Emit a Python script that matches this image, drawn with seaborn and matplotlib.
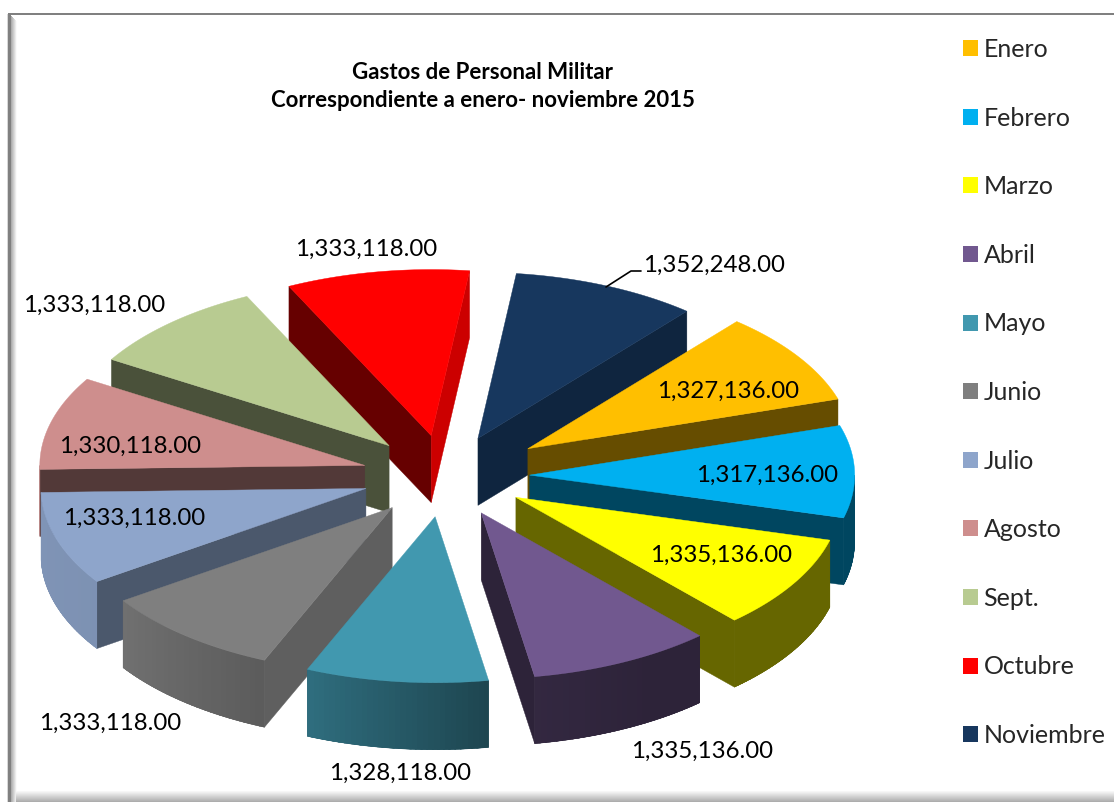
import numpy as np
import matplotlib
matplotlib.use("Agg")
import matplotlib.pyplot as plt
from matplotlib.patches import Patch, Polygon, Rectangle
import seaborn as sns

# Datos
meses = ["Enero", "Febrero", "Marzo", "Abril", "Mayo", "Junio", "Julio",
         "Agosto", "Sept.", "Octubre", "Noviembre"]
gastos = [1327136.00, 1317136.00, 1335136.00, 1335136.00, 1328118.00, 1333118.00,
          1333118.00, 1330118.00, 1333118.00, 1333118.00, 1352248.00]
colores = ["#FFBF00", "#00B0F0", "#FFFF00", "#71588F", "#4198AF", "#7F7F7F",
           "#8EA5CB", "#CE8E8D", "#B8CB91", "#FF0000", "#17375E"]
titulo = "Gastos de Personal Militar\nCorrespondiente a enero- noviembre 2015"

# Posicion del pastel en pixeles y separacion de cada porcion
CX, CY = 445, 476
RX, RY = 325, 166
ALTO = 67
EX, EY = 83, 41
INICIO = 40
separacion = [1.2, 1.02, 1, 1, 1, 1, 1, 1, 1, 1, 1]

# Donde va la etiqueta de cada mes (centro, pixeles)
pos_etiquetas = [(728, 391), (767, 475), (721, 555), (702, 751), (400, 773), (110, 723),
                 (134, 518), (130, 446), (94, 305), (366, 249), (714, 265)]

sns.set_theme(style="white")
plt.rcParams['font.family'] = ['Lato', 'DejaVu Sans']
paleta = sns.color_palette(colores)


def sombra_corte(alfa):
    """Oscurecimiento de las caras planas segun hacia donde miran"""
    return np.interp(alfa, [13, 40, 59, 71, 81, 180], [.8, .75, .67, .53, .4, .4])


def sombra_borde(phi):
    """Oscurecimiento de la cara curva"""
    return np.interp(phi, [90, 150, 170, 203, 235, 270], [.4, .4, .45, .72, .88, .9])


def oscurecer(color, f):
    return tuple(c * f for c in color)


def punto(phi):
    p = np.radians(phi)
    return np.array([RX * np.sin(p), -RY * np.cos(p)])


def dibujar_porcion(ax, ini, fin, sep, color, z):
    medio = (ini + fin) / 2
    m = np.radians(medio)
    apice = np.array([CX + sep * EX * np.sin(m), CY - sep * EY * np.cos(m)])
    baja = np.array([0, ALTO])

    # caras planas
    a, b = punto(ini), punto(fin)
    for borde, otro in ((a, b), (b, a)):
        n = np.array([-borde[1], borde[0]])
        if n @ otro > 0:
            n = -n
        if n[1] > 0:
            alfa = np.degrees(np.arctan2(n[1], n[0]))
            fc = oscurecer(color, sombra_corte(alfa))
            ax.add_patch(Polygon([apice, apice + borde, apice + borde + baja, apice + baja],
                                 closed=True, fc=fc, ec=fc, lw=.3, zorder=z))

    # cara curva: una base y encima tiras recortadas para el degradado
    lo, hi = max(ini, 90), min(fin, 270)
    if hi > lo:
        tiras = np.linspace(lo, hi, int(hi - lo) + 2)
        arriba = [apice + punto(p) for p in tiras]
        abajo = [q + baja for q in arriba][::-1]
        fc = oscurecer(color, sombra_borde((lo + hi) / 2))
        base = Polygon(arriba + abajo, closed=True, fc=fc, ec=fc, lw=.3, zorder=z)
        ax.add_patch(base)
        for p0, p1 in zip(tiras[:-1], tiras[1:]):
            fc = oscurecer(color, sombra_borde((p0 + p1) / 2))
            p, r = apice + punto(p0), apice + punto(p1)
            tira = Polygon([p, r, r + baja, p + baja], closed=True, fc=fc, ec=fc, lw=1,
                           antialiased=False, zorder=z + .1)
            ax.add_patch(tira)
            tira.set_clip_path(base)

    # tapa
    arco = np.linspace(ini, fin, 60)
    puntos = [apice] + [apice + punto(p) for p in arco]
    ax.add_patch(Polygon(puntos, closed=True, fc=color, ec=color, lw=.3, zorder=z + .5))


def dibujar_marco(ax):
    # sombra interior izquierda y de abajo
    for i in range(7):
        g = .62 + i * .06
        ax.add_patch(Rectangle((10 + i, 15 + i), 1, 787 - i, fc=(g, g, g), lw=0, zorder=1))
    for i in range(11):
        g = .97 - i * .029
        ax.add_patch(Rectangle((16, 791 + i), 1100, 1, fc=(g, g, g), lw=0, zorder=1))
    ax.add_patch(Rectangle((7, 14), 1, 788, fc="#d8d8d8", lw=0, zorder=2))
    ax.add_patch(Rectangle((8, 13), 3, 789, fc="#808080", lw=0, zorder=2))
    ax.add_patch(Rectangle((8, 13), 1106, 2.4, fc="#808080", lw=0, zorder=2))


fig = plt.figure(figsize=(11.14, 8.02), dpi=100)
ax = fig.add_axes([0, 0, 1, 1])
ax.set_xlim(0, 1114)
ax.set_ylim(802, 0)
ax.axis("off")

dibujar_marco(ax)

# Angulos de cada porcion a partir de los datos
partes = np.array(gastos) / np.sum(gastos) * 360
finales = INICIO + np.cumsum(partes)
iniciales = finales - partes
medios = (iniciales + finales) / 2

# de atras hacia adelante
orden = np.argsort(-np.cos(np.radians(medios)))
for z, i in enumerate(orden):
    dibujar_porcion(ax, iniciales[i], finales[i], separacion[i], paleta[i], 5 + z)

# Etiquetas
for valor, (x, y) in zip(gastos, pos_etiquetas):
    ax.text(x, y, f"{valor:,.2f}", ha="center", va="center", fontsize=17.3,
            color="black", zorder=30)

# Linea guia de noviembre
ax.plot([606, 631, 641], [287, 271, 271], color="black", lw=1.2, zorder=30)

ax.text(483, 86.5, titulo, ha="center", va="center", fontsize=16, fontweight="bold",
        color="black", linespacing=1.47, zorder=30)

handles = [Patch(fc=c, ec=c, lw=0) for c in paleta]
ax.legend(handles, meses, loc="upper left", bbox_to_anchor=(963 / 1114, 1 - 38 / 802),
          frameon=False, fontsize=18, handlelength=.6, handleheight=.6, handletextpad=.22,
          labelspacing=1.824, borderpad=0, borderaxespad=0)

plt.savefig("out.png", dpi=100)
